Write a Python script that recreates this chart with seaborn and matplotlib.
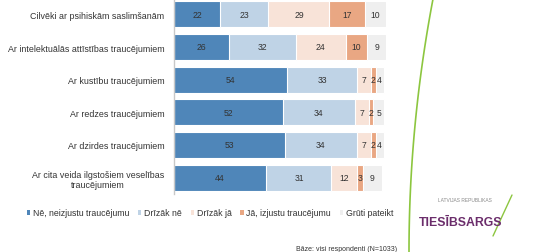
import matplotlib
matplotlib.use("Agg")
import matplotlib.pyplot as plt
import seaborn as sns
import numpy as np
import pandas as pd
from matplotlib.patches import Patch

categories = [
    "Cilvēki ar psihiskām saslimšanām",
    "Ar intelektuālās attīstības traucējumiem",
    "Ar kustību traucējumiem",
    "Ar redzes traucējumiem",
    "Ar dzirdes traucējumiem",
    "Ar cita veida ilgstošiem veselības\ntraucējumiem",
]
series_names = ["Nē, neizjustu traucējumu", "Drīzāk nē", "Drīzāk jā",
                "Jā, izjustu traucējumu", "Grūti pateikt"]
ne = [22, 26, 54, 52, 53, 44]
drizak_ne = [23, 32, 33, 34, 34, 31]
drizak_ja = [29, 24, 7, 7, 7, 12]
ja = [17, 10, 2, 2, 2, 3]
gruti = [10, 9, 4, 5, 4, 9]
colors = ["#4f86b9", "#bfd3e6", "#f8e3d8", "#e9a783", "#efefef"]

series = [ne, drizak_ne, drizak_ja, ja, gruti]

sns.set_theme(style="white")
plt.rcParams['font.family'] = ['Liberation Sans', 'DejaVu Sans']

fig = plt.figure(figsize=(5.39, 2.53), dpi=100)
ax = fig.add_axes([174/539, 1 - 195/253, (386-174)/539, 196/253])

vals = np.array(series, dtype=float)
cum = np.cumsum(vals, axis=0)
df = pd.DataFrame({"cat": categories})
for i in range(len(series) - 1, -1, -1):
    df["v"] = cum[i]
    sns.barplot(data=df, x="v", y="cat", orient="h", color=colors[i],
                saturation=1, width=0.8, edgecolor="white", linewidth=0.8, ax=ax)

for r in range(len(categories)):
    left = 0
    for i in range(len(series)):
        v = vals[i, r]
        ax.text(left + v / 2, r, f"{int(v)}", ha="center", va="center",
                fontsize=6.2, color="#333333")
        left += v

ax.set_xlim(0, 101)
ax.set_ylim(5.5, -0.5)
ax.set_xlabel("")
ax.set_ylabel("")
ax.set_xticks([])
ax.tick_params(axis="y", length=0, labelsize=6.4, colors="#333333", pad=7)
for lab in ax.get_yticklabels():
    lab.set_multialignment("center")
for s in ["top", "right", "bottom"]:
    ax.spines[s].set_visible(False)
ax.spines["left"].set_color("#c8c8c8")
ax.spines["left"].set_linewidth(1)

handles = [Patch(facecolor=c, edgecolor="none") for c in colors]
fig.legend(handles, series_names, loc="center", bbox_to_anchor=(210/539, 1 - 214/253),
           ncol=5, frameon=False, fontsize=6.3, handlelength=0.4, handleheight=0.4,
           handletextpad=0.3, columnspacing=1.0, labelcolor="#333333")

fig.text(397/539, 1 - 250/253, "Bāze: visi respondenti (N=1033)", ha="right",
         va="center", fontsize=5, color="#333333")

# logo decoration
t = np.linspace(0, 1, 60)
xs = 409 + 24 * (1 - t) ** 2
ys = 253 * t
fig.add_artist(plt.Line2D(xs / 539, 1 - ys / 253, color="#8cc63f", lw=1.2))
fig.text(465/539, 1 - 201/253, "LATVIJAS REPUBLIKAS", ha="center", va="center",
         fontsize=3.5, color="#888888")
fig.text(461/539, 1 - 223/253, "TIESĪBSARGS", ha="center", va="center",
         fontsize=8.8, fontweight="bold", color="#6b2d6b")
fig.add_artist(plt.Line2D([493/539, 512/539], [1 - 237/253, 1 - 196/253],
                          color="#8cc63f", lw=1.0))

fig.savefig("out.png", dpi=100)
